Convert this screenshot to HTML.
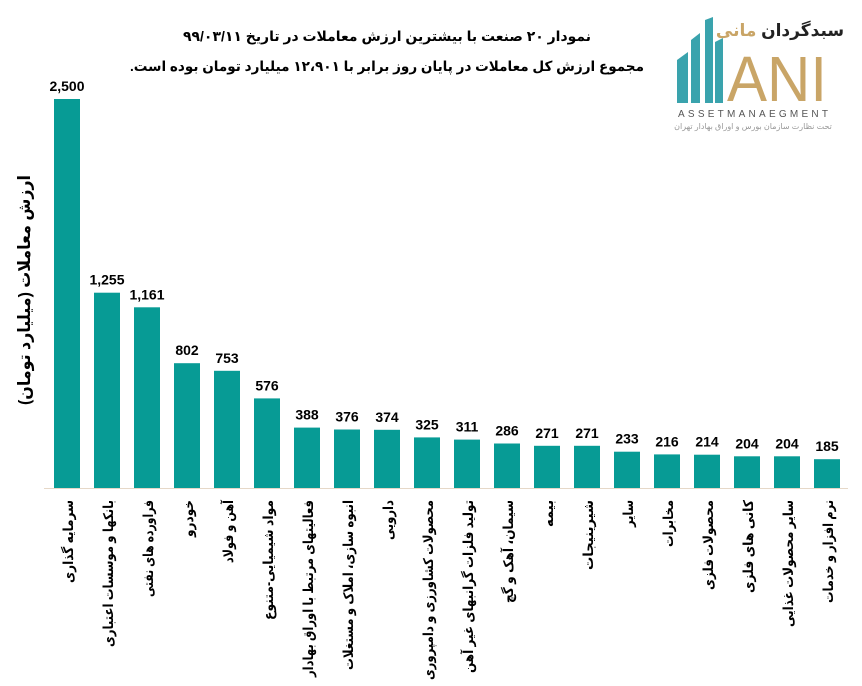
<!DOCTYPE html>
<html><head><meta charset="utf-8">
<style>
html,body{margin:0;padding:0;background:#fff;width:862px;height:686px;overflow:hidden}
svg{display:block}
text{font-family:"Liberation Sans","DejaVu Sans",sans-serif}
</style></head><body>
<svg id="s" width="862" height="686" viewBox="0 0 862 686" xmlns="http://www.w3.org/2000/svg">
<text x="387" y="41" text-anchor="middle" font-size="14" font-weight="bold" direction="rtl" textLength="408" lengthAdjust="spacingAndGlyphs">نمودار  ۲۰ صنعت با بیشترین ارزش معاملات در تاریخ ۹۹/۰۳/۱۱</text>
<text x="387" y="71" text-anchor="middle" font-size="14" font-weight="bold" direction="rtl" textLength="514" lengthAdjust="spacingAndGlyphs">مجموع ارزش  کل معاملات در پایان روز برابر با ۱۲،۹۰۱ میلیارد تومان بوده است.</text>
<text transform="translate(30,290) rotate(-90)" text-anchor="middle" font-size="17" font-weight="bold" direction="rtl" textLength="230" lengthAdjust="spacingAndGlyphs">ارزش معاملات (میلیارد تومان)</text>
<!-- logo -->
<polygon points="677,60 688,52 688,103 677,103" fill="#3aa3ad"/>
<polygon points="691,40 700,33 700,103 691,103" fill="#3aa3ad"/>
<polygon points="705,20 713,17 713,103 705,103" fill="#3aa3ad"/>
<polygon points="715,42 723,38 723,103 715,103" fill="#3aa3ad"/>
<text x="777" y="101" text-anchor="middle" font-size="64" fill="#c9a567" font-family="Liberation Serif" textLength="100" lengthAdjust="spacingAndGlyphs">ANI</text>
<text x="780" y="36" text-anchor="middle" font-size="17" font-weight="bold" fill="#222">سبدگردان <tspan fill="#c9a567">مانی</tspan></text>
<text x="753" y="117" text-anchor="middle" font-size="10" fill="#555" textLength="150" lengthAdjust="spacing">ASSETMANAEGMENT</text>
<text x="753" y="129" text-anchor="middle" font-size="8" fill="#999" direction="rtl">تحت نظارت سازمان بورس و اوراق بهادار تهران</text>
<line x1="44" y1="488.5" x2="848" y2="488.5" stroke="#e6d8c8" stroke-width="1"/>
<g id="g"></g>
</svg>
<script>
var v=[2500,1255,1161,802,753,576,388,376,374,325,311,286,271,271,233,216,214,204,204,185];
var l=["سرمایه گذاری","بانکها و موسسات اعتباری","فراورده های نفتی","خودرو","آهن و فولاد","مواد شیمیایی-متنوع","فعالیتهای مرتبط با اوراق بهادار","انبوه سازی، املاک و مستغلات","دارویی","محصولات کشاورزی و دامپروری","تولید فلزات گرانبهای غیر آهن","سیمان، آهک و گچ","بیمه","شیرینیجات","سایر","مخابرات","محصولات فلزی","کانی های فلزی","سایر محصولات غذایی","نرم افزار و خدمات"];
var L=[83,147,97,37,63,120,177,170,40,180,173,103,27,70,27,47,90,93,127,103];
var h="",B=488,k=0.1556;
for(var i=0;i<20;i++){
 var x=54+i*40,hh=v[i]*k,t=B-hh;
 h+='<rect x="'+x+'" y="'+t.toFixed(1)+'" width="26" height="'+hh.toFixed(1)+'" fill="#079b95"/>';
 h+='<text x="'+(x+13)+'" y="'+(t-8).toFixed(1)+'" text-anchor="middle" font-size="14" font-weight="bold">'+v[i].toLocaleString("en-US")+'</text>';
 h+='<text transform="translate('+(x+19)+',500) rotate(-90)" text-anchor="start" font-size="13.5" font-weight="bold" direction="rtl" textLength="'+L[i]+'" lengthAdjust="spacingAndGlyphs">'+l[i]+'</text>';
}
document.getElementById("g").innerHTML=h;
</script>
</body></html>
